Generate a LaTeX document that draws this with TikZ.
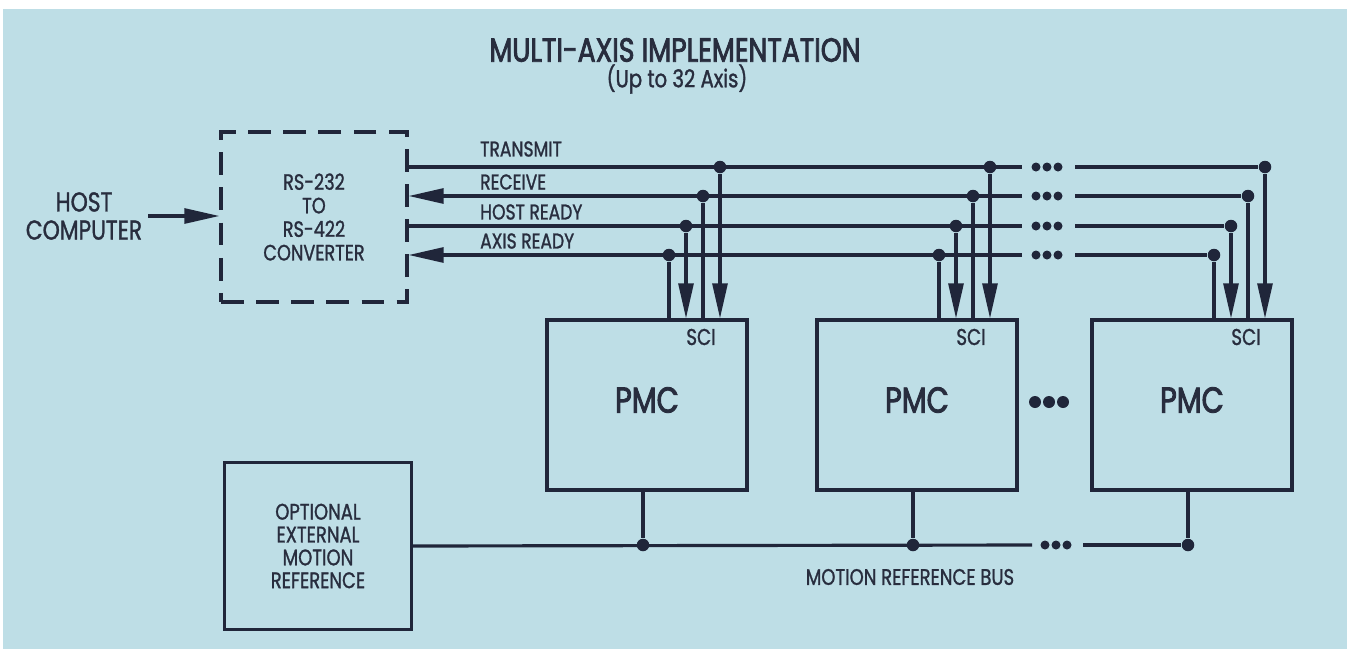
\documentclass[tikz,border=0pt]{standalone}
\usepackage{fontspec}
\setmainfont[FakeStretch=0.8, FakeBold=1.2]{Poppins}
\newfontfamily\heavyfont[FakeStretch=0.8, FakeBold=2.4]{Poppins}
\usetikzlibrary{arrows.meta, positioning, calc}
\definecolor{diagbg}{RGB}{190, 222, 230}
\definecolor{inkblue}{RGB}{32, 38, 58}
\definecolor{txtgray}{RGB}{40, 45, 62}
\newcommand{\fsz}[2]{\fontsize{#1}{#2}\selectfont}

\begin{document}
\begin{tikzpicture}[x=0.02cm, y=-0.02cm,
        wire/.style={draw=inkblue, line width=1.8pt},
        sig/.style={wire, -{Triangle[length=20pt, width=8.5pt]}},
        junc/.style={circle, fill=inkblue, minimum size=0.25cm, inner sep=0pt},
        gapdot/.style={circle, fill=inkblue, minimum size=0.18cm, inner sep=0pt},
        moredot/.style={circle, fill=inkblue, minimum size=0.24cm, inner sep=0pt},
        pmcbox/.style={draw=inkblue, line width=1.8pt, minimum width=4cm, minimum height=3.4cm},
        convbox/.style={draw=inkblue, line width=1.8pt, dash pattern=on 13pt off 7pt, minimum width=3.72cm, minimum height=3.4cm, align=center, text=txtgray, font=\fsz{12.6}{13.4}},
        optbox/.style={draw=inkblue, line width=1.8pt, minimum width=3.74cm, minimum height=3.34cm, align=center, text=txtgray, font=\fsz{12.8}{13}},
        ttl/.style={inner sep=1pt, text=txtgray, font=\heavyfont\fsz{19}{20}},
        subttl/.style={inner sep=1pt, text=txtgray, font=\fsz{14}{15}},
        hostlbl/.style={align=center, text=txtgray, font=\fsz{15.5}{16}},
        buslbl/.style={anchor=west, text=txtgray, font=\fsz{12.2}{13}},
        pmclbl/.style={text=txtgray, font=\heavyfont\fsz{20.5}{22}},
        scilbl/.style={text=txtgray, font=\fsz{13}{14}}
      ]
        \fill[white] (0,0) rectangle (1350,653);
        \fill[diagbg] (3,9) rectangle (1347,649);
        \useasboundingbox (0,0) rectangle (1350,653);
        \node[ttl] (title) at (675,50) {MULTI-AXIS IMPLEMENTATION};
        \node[subttl] (subtitle) at (677,79) {(Up to 32 Axis)};
        \node[convbox] (conv) at (314,217) {RS-232\\TO\\RS-422\\CONVERTER};
        \node[hostlbl] (host) at (84,216) {HOST\\COMPUTER};
        \draw[sig] (host.east) -- (host.east -| conv.west);
        \node[optbox] (opt) at (318,546) {OPTIONAL\\EXTERNAL\\MOTION\\REFERENCE};
        \foreach \p/\cx in {1/647, 2/917, 3/1192} {
          \node[pmcbox] (pmc\p) at (\cx,405) {};
          \node[pmclbl] (pmct\p) at (\cx,400) {PMC};
          \node[scilbl] (sci\p) at (\cx+54,337) {SCI};
          \node[junc] (ax\p) at (\cx+22,255) {};
          \node[junc] (hr\p) at (\cx+39,226) {};
          \node[junc] (rx\p) at (\cx+56,196) {};
          \node[junc] (tx\p) at (\cx+73,167) {};
          \node[junc] (mb\p) at (\cx-4,545) {};
          \draw[sig] (tx\p) -- (tx\p |- pmc\p.north);
          \draw[sig] (hr\p) -- (hr\p |- pmc\p.north);
          \draw[wire] (rx\p) -- (rx\p |- pmc\p.north);
          \draw[wire] (ax\p) -- (ax\p |- pmc\p.north);
          \draw[wire] (mb\p |- pmc\p.south) -- (mb\p);
        }
        \foreach \s/\y in {tx/167, rx/196, hr/226, ax/255} {
          \coordinate (\s e) at (1022,\y);
          \coordinate (\s r) at (1075,\y);
          \foreach \d in {1036,1047,1058} { \node[gapdot] (\s g\d) at (\d,\y) {}; }
          \draw[wire] (\s r) -- (\s 3);
        }
        \draw[wire] (conv.east |- tx1) -- (txe);
        \draw[sig] (rxe) -- (conv.east |- rx1);
        \draw[wire] (conv.east |- hr1) -- (hre);
        \draw[sig] (axe) -- (conv.east |- ax1);
        \node[buslbl] (txl) at (474,149) {TRANSMIT};
        \node[buslbl] (rxl) at (474,182) {RECEIVE};
        \node[buslbl] (hrl) at (474,212) {HOST READY};
        \node[buslbl] (axl) at (474,241) {AXIS READY};
        \coordinate (mbe) at (1032,545);
        \coordinate (mbr) at (1083,545);
        \draw[wire] (opt.east) -- (mbe);
        \draw[wire] (mbr) -- (mb3);
        \foreach \d in {1045,1056,1067} { \node[gapdot] (mbg\d) at (\d,545) {}; }
        \node[buslbl, anchor=center, font=\fsz{12.8}{13}] (mbl) at (910,577) {MOTION REFERENCE BUS};
        \foreach \d in {1035,1049,1063} { \node[moredot] (more\d) at (\d,402) {}; }
      \end{tikzpicture}
\end{document}
